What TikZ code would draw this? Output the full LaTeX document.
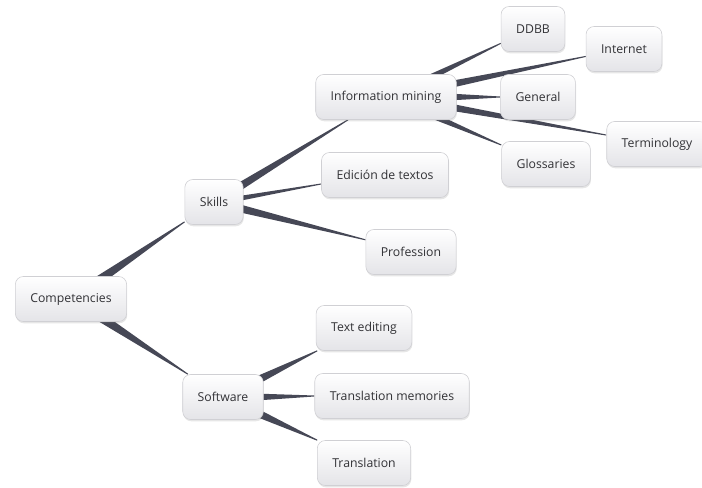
\documentclass[tikz,border=0pt]{standalone}
\usepackage{fontspec}
\setmainfont{Open Sans}
\usepackage{tikz}
\usetikzlibrary{calc,backgrounds,shadows}
\definecolor{mapText}{RGB}{50,50,54}
\definecolor{mapLink}{RGB}{70,72,86}
\definecolor{mapBorder}{RGB}{208,208,212}
\definecolor{mapShade}{RGB}{228,228,232}

\tikzset{
  topic/.style={draw=mapBorder, line width=0.6pt, rounded corners=8bp,
    top color=white, bottom color=mapShade, minimum height=45bp,
    inner xsep=15bp, text=mapText, font=\fontsize{12.3}{14}\selectfont,
    drop shadow={shadow xshift=0.6bp, shadow yshift=-1.8bp, opacity=0.2}},
}

% tapered branch: [width at parent]{parent}{child}
\newcommand{\branch}[3][8]{%
  \fill[mapLink] let \p1=(#2.center), \p2=(#3.center),
    \n1={atan2(\y2-\y1,\x2-\x1)}, \n2={\n1+180} in
    ($(#2.\n1)+(\n1:-8bp)+(\n1+90:#1bp/2)$) --
    ($(#2.\n1)+(\n1:-8bp)+(\n1-90:#1bp/2)$) --
    ($(#3.\n2)+(\n1-90:0.5bp)$) --
    ($(#3.\n2)+(\n1+90:0.5bp)$) -- cycle;
}

\begin{document}
\begin{tikzpicture}[x=1bp,y=-1bp]
    \useasboundingbox (0,0) rectangle (702,488);

    \node[topic] (comp) at (71,299) {Competencies};

    \node[topic] (skills) at (214,202) {Skills};
    \node[topic] (soft) at (223,397) {Software};

    \node[topic] (mining) at (386,97) {Information mining};
    \node[topic] (edit) at (385,175) {Edición de textos};
    \node[topic] (prof) at (411,252) {Profession};

    \node[topic] (ddbb) at (533,29) {DDBB};
    \node[topic] (inet) at (624,49) {Internet};
    \node[topic] (gen) at (538,97) {General};
    \node[topic] (term) at (657,144) {Terminology};
    \node[topic] (gloss) at (546,164) {Glossaries};

    \node[topic] (textedit) at (364,328) {Text editing};
    \node[topic] (tm) at (392,396) {Translation memories};
    \node[topic] (trans) at (364,463) {Translation};

    \begin{scope}[on background layer]
        \branch[9]{comp}{skills}
        \branch[9]{comp}{soft}
        \branch[8]{skills}{mining}
        \branch[5]{skills}{edit}
        \branch[8]{skills}{prof}
        \branch[6]{mining}{ddbb}
        \branch[7]{mining}{inet}
        \branch[7]{mining}{gen}
        \branch[7]{mining}{term}
        \branch[6]{mining}{gloss}
        \branch[8]{soft}{textedit}
        \branch[7]{soft}{tm}
        \branch[8]{soft}{trans}
    \end{scope}
\end{tikzpicture}
\end{document}
